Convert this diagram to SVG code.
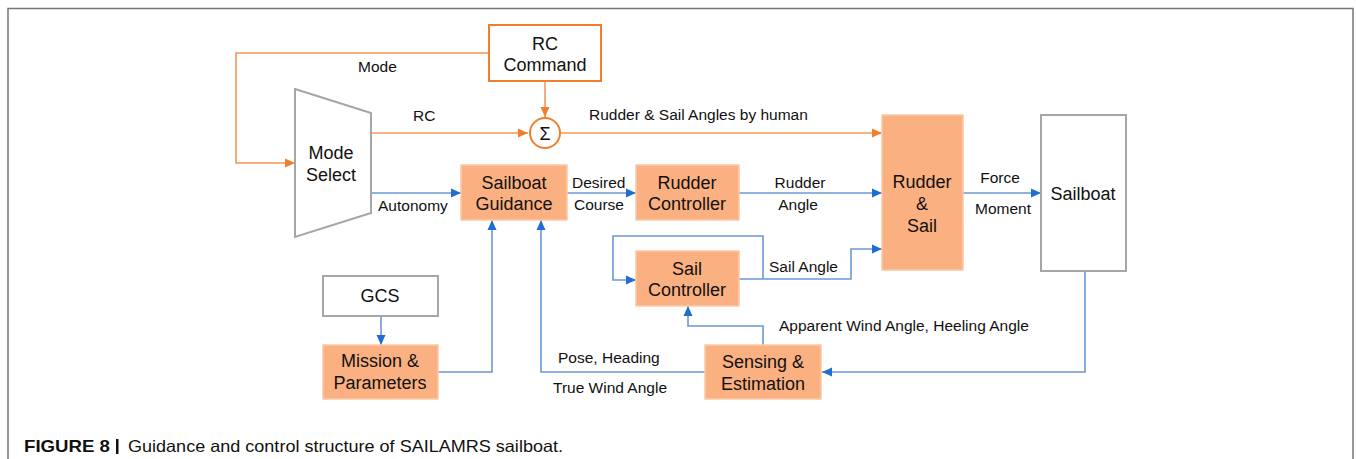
<svg xmlns="http://www.w3.org/2000/svg" width="1356" height="459" viewBox="0 0 1356 459">
<style>
.t{font-family:"Liberation Sans",Arial,sans-serif;fill:#111;}
.n{font-size:18px;text-anchor:middle;}
.l{font-size:15.5px;}
.node{fill:#fbb081;stroke:#fcc9a6;stroke-width:1.5;}
.box{fill:#fff;stroke:#a6a6a6;stroke-width:2;}
.ob{fill:#fff;stroke:#f07e2e;stroke-width:2;}
.ol{fill:none;stroke:#f5975a;stroke-width:1.6;}
.bl{fill:none;stroke:#6b98d6;stroke-width:1.6;}
</style>
<defs>
<marker id="ao" markerUnits="userSpaceOnUse" markerWidth="12" markerHeight="10" refX="10" refY="5" orient="auto"><path d="M0,0.5 L10,5 L0,9.5 Z" fill="#f07e2e"/></marker>
<marker id="ab" markerUnits="userSpaceOnUse" markerWidth="12" markerHeight="10" refX="10" refY="5" orient="auto"><path d="M0,0.5 L10,5 L0,9.5 Z" fill="#1f6fd1"/></marker>
</defs>
<rect width="1356" height="459" fill="#fff"/>
<path d="M8,459 V8.5 H1353 V459" fill="none" stroke="#777" stroke-width="1.5"/>

<g id="connectors">
<path class="ol" d="M489,53 H236 V163 H295" marker-end="url(#ao)"/>
<path class="ol" d="M371,133 H528" marker-end="url(#ao)"/>
<path class="ol" d="M545,81 V117" marker-end="url(#ao)"/>
<path class="ol" d="M560,133 H882" marker-end="url(#ao)"/>
<path class="bl" d="M371,193 H461" marker-end="url(#ab)"/>
<path class="bl" d="M567,193 H636" marker-end="url(#ab)"/>
<path class="bl" d="M739,193 H882" marker-end="url(#ab)"/>
<path class="bl" d="M963,193 H1041" marker-end="url(#ab)"/>
<path class="bl" d="M739,279 H851 V249 H882" marker-end="url(#ab)"/>
<path class="bl" d="M763,279 V236 H613 V280 H636" marker-end="url(#ab)"/>
<path class="bl" d="M1085,271 V372 H822" marker-end="url(#ab)"/>
<path class="bl" d="M763,345 V326 H688 V306" marker-end="url(#ab)"/>
<path class="bl" d="M705,372 H541 V220" marker-end="url(#ab)"/>
<path class="bl" d="M438,372 H492 V220" marker-end="url(#ab)"/>
<path class="bl" d="M381,316 V345" marker-end="url(#ab)"/>
<text class="t l" x="358" y="72">Mode</text>
<text class="t l" x="413" y="121">RC</text>
<text class="t l" x="589" y="120">Rudder &amp; Sail Angles by human</text>
<text class="t l" x="378" y="211">Autonomy</text>
<text class="t l" x="572" y="188">Desired</text>
<text class="t l" x="574" y="210">Course</text>
<text class="t l" x="800" y="188" text-anchor="middle">Rudder</text>
<text class="t l" x="798" y="210" text-anchor="middle">Angle</text>
<text class="t l" x="1000" y="183" text-anchor="middle">Force</text>
<text class="t l" x="1003" y="214" text-anchor="middle">Moment</text>
<text class="t l" x="769" y="272">Sail Angle</text>
<text class="t l" x="779" y="331">Apparent Wind Angle, Heeling Angle</text>
<text class="t l" x="558" y="363">Pose, Heading</text>
<text class="t l" x="553" y="393">True Wind Angle</text>
</g>

<g id="rc-command">
<rect class="ob" x="489" y="25" width="112" height="56"/>
<text class="t n" x="545" y="50">RC</text>
<text class="t n" x="545" y="71">Command</text>
</g>
<g id="sum">
<circle cx="545" cy="133" r="15" fill="#fff" stroke="#f07e2e" stroke-width="2"/>
<text class="t" x="545" y="140" font-size="18" text-anchor="middle">Σ</text>
</g>
<g id="mode-select">
<path d="M295,89 L371,113 V213 L295,237 Z" fill="#fff" stroke="#a6a6a6" stroke-width="2"/>
<text class="t n" x="331" y="159">Mode</text>
<text class="t n" x="331" y="181">Select</text>
</g>
<g id="sailboat-guidance">
<rect class="node" x="461" y="165" width="106" height="55"/>
<text class="t n" x="514" y="189">Sailboat</text>
<text class="t n" x="514" y="210">Guidance</text>
</g>
<g id="rudder-controller">
<rect class="node" x="636" y="165" width="103" height="55"/>
<text class="t n" x="687" y="189">Rudder</text>
<text class="t n" x="687" y="210">Controller</text>
</g>
<g id="rudder-sail">
<rect class="node" x="882" y="115" width="81" height="155"/>
<text class="t n" x="922" y="188">Rudder</text>
<text class="t n" x="922" y="210">&amp;</text>
<text class="t n" x="922" y="232">Sail</text>
</g>
<g id="sailboat">
<rect class="box" x="1041" y="115" width="85" height="156"/>
<text class="t n" x="1083" y="200">Sailboat</text>
</g>
<g id="sail-controller">
<rect class="node" x="636" y="251" width="103" height="55"/>
<text class="t n" x="687" y="275">Sail</text>
<text class="t n" x="687" y="296">Controller</text>
</g>
<g id="sensing-estimation">
<rect class="node" x="705" y="345" width="116" height="54"/>
<text class="t n" x="763" y="368">Sensing &amp;</text>
<text class="t n" x="763" y="390">Estimation</text>
</g>
<g id="gcs">
<rect class="box" x="323" y="276" width="115" height="40"/>
<text class="t n" x="380" y="302">GCS</text>
</g>
<g id="mission-parameters">
<rect class="node" x="323" y="345" width="115" height="54"/>
<text class="t n" x="380" y="367">Mission &amp;</text>
<text class="t n" x="380" y="389">Parameters</text>
</g>
<g id="caption">
<text class="t" x="24" y="452" font-size="16.5" font-weight="bold" textLength="86" lengthAdjust="spacingAndGlyphs">FIGURE 8</text>
<rect x="116" y="439" width="2.5" height="15" fill="#111"/>
<text class="t" x="128" y="452" font-size="16.5" textLength="435" lengthAdjust="spacingAndGlyphs">Guidance and control structure of SAILAMRS sailboat.</text>
</g>
</svg>
